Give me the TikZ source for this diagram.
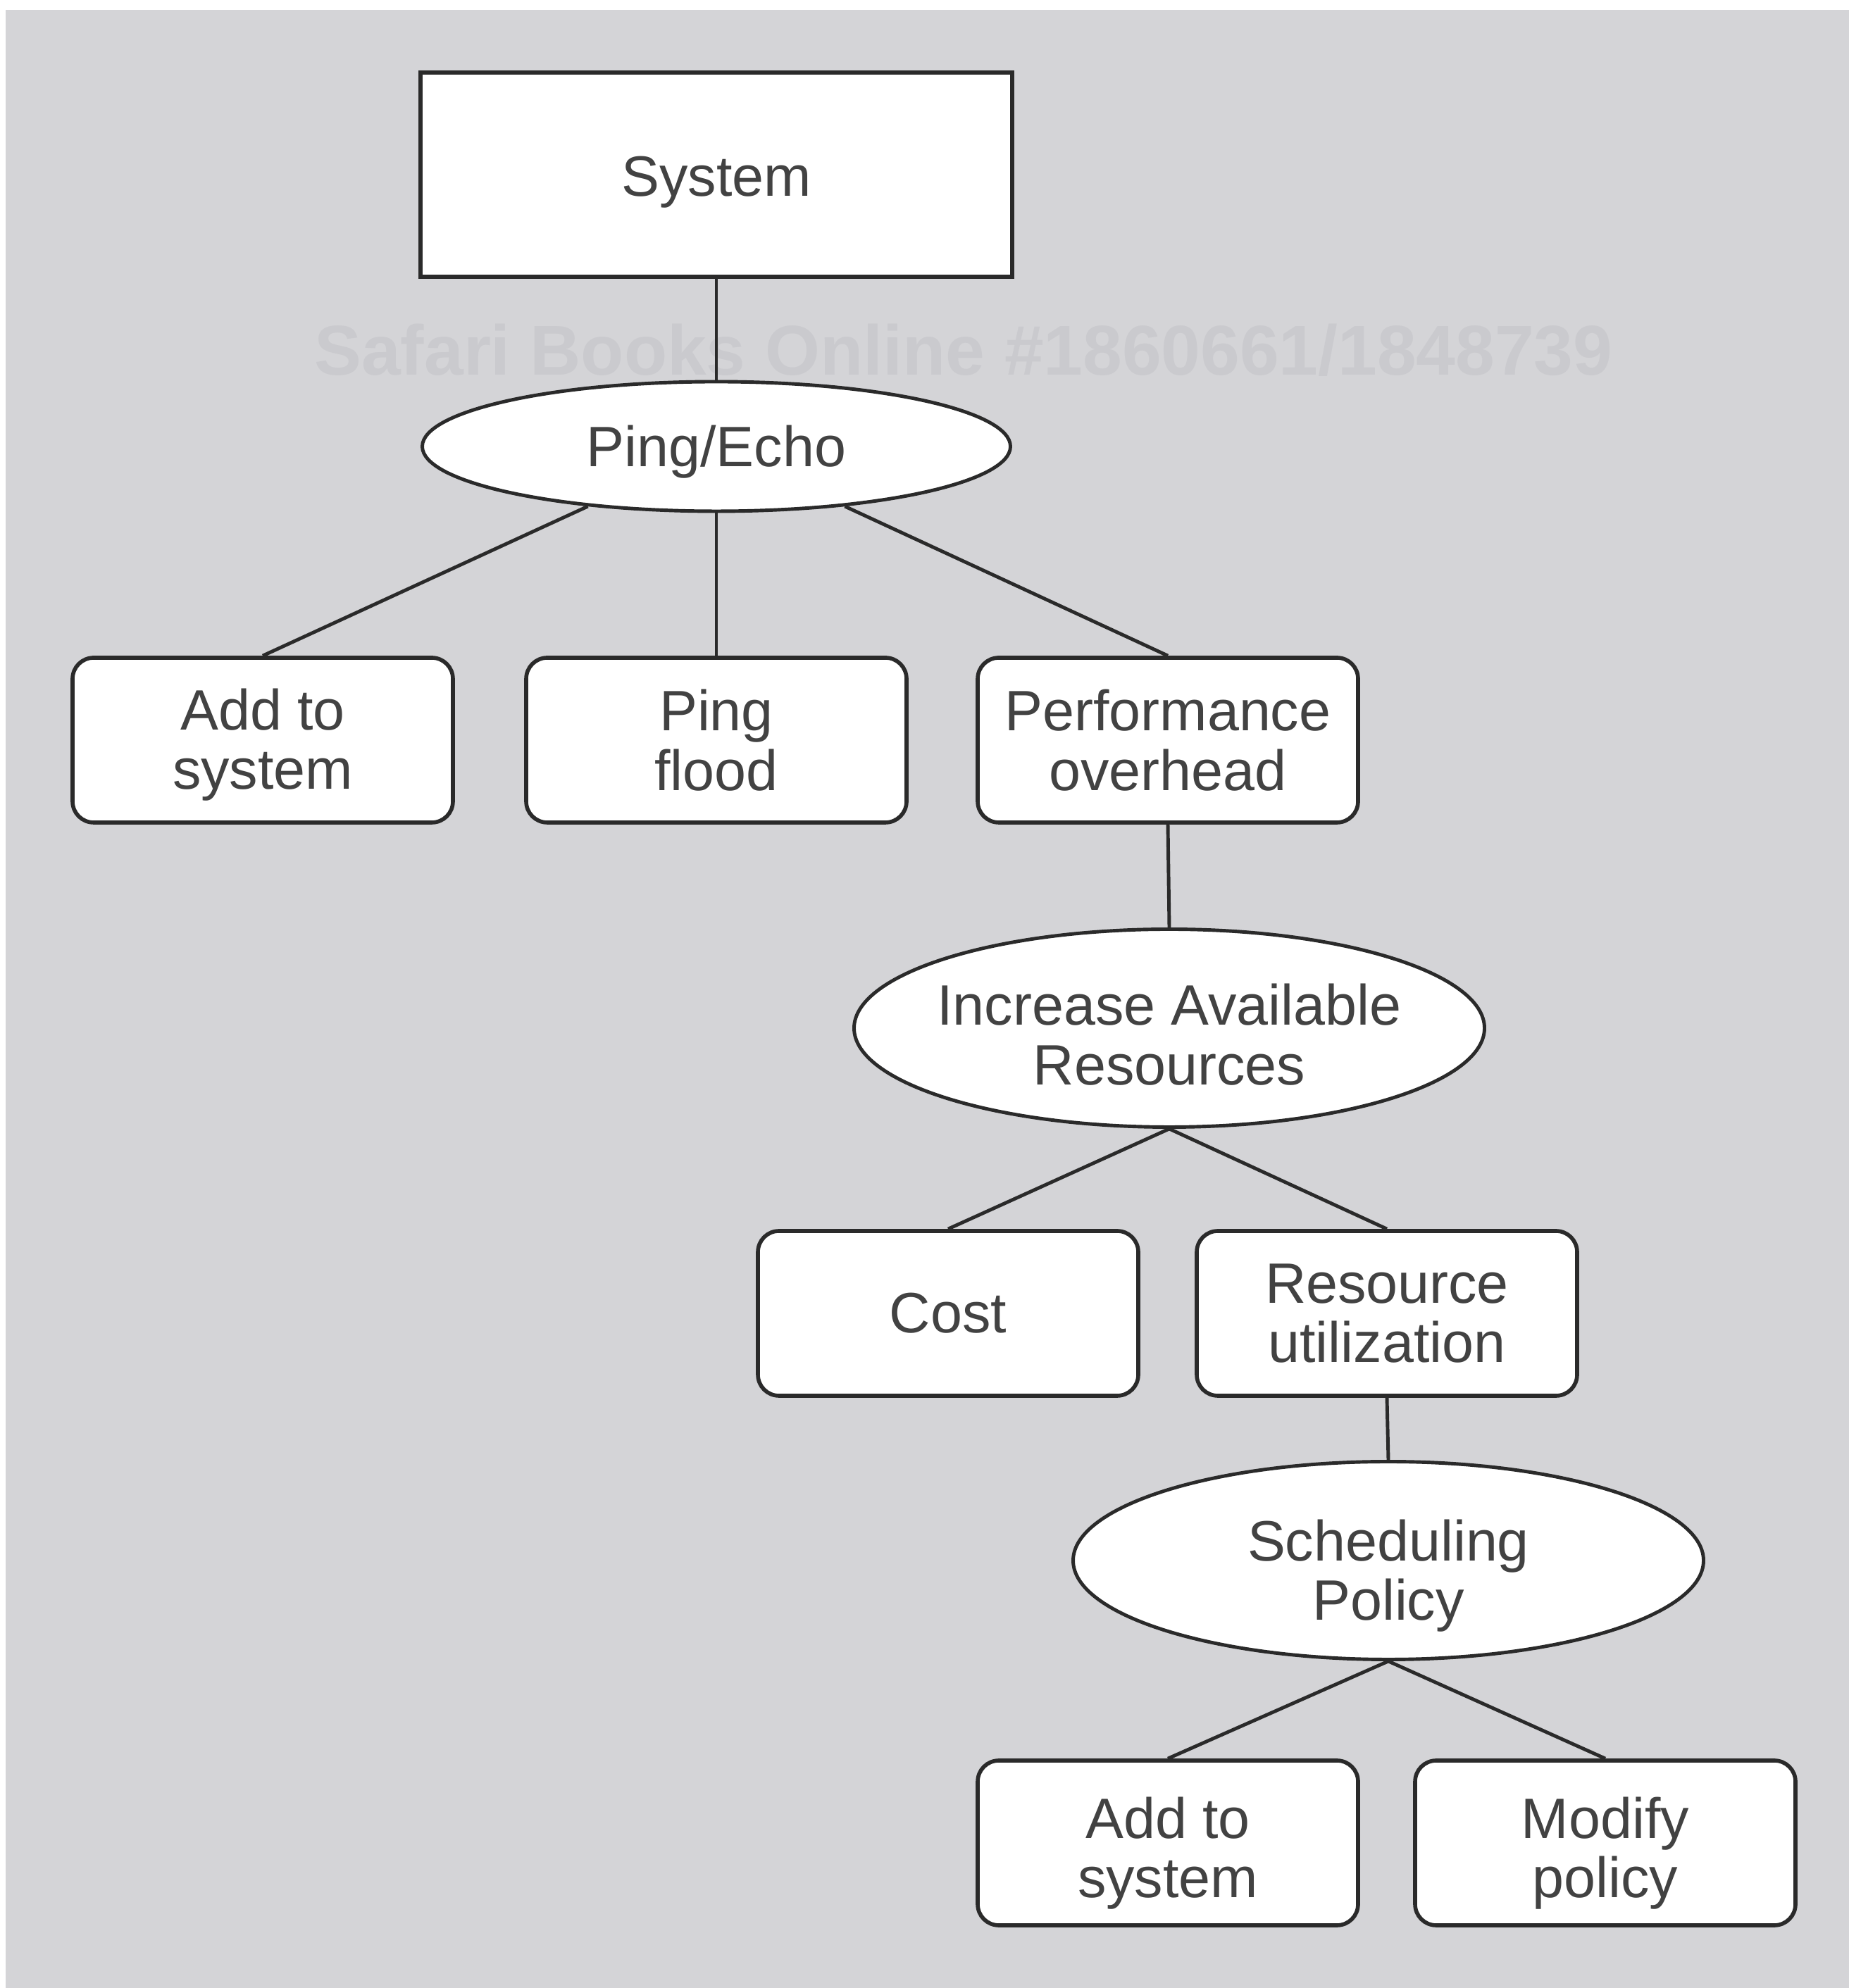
\documentclass[tikz,border=0pt]{standalone}
\usepackage{fontspec}
\setmainfont{Liberation Sans}
\usetikzlibrary{shapes.geometric}
\definecolor{bggray}{RGB}{212,212,215}
\definecolor{inkgray}{RGB}{42,42,42}
\definecolor{textgray}{RGB}{66,66,66}
\definecolor{markgray}{RGB}{202,202,206}

\begin{document}
\begin{tikzpicture}[
    font=\fontsize{23}{24}\selectfont,
    top/.style={rectangle, draw=inkgray, line width=1.6pt, fill=white, text=textgray, minimum width=8.4cm, minimum height=2.9cm},
    tactic/.style={ellipse, draw=inkgray, line width=1.4pt, fill=white, text=textgray, align=center, inner xsep=-1.5cm, inner ysep=-0.2cm, minimum width=8.95cm, minimum height=2.81cm},
    leaf/.style={rectangle, rounded corners=0.3cm, draw=inkgray, line width=1.6pt, fill=white, text=textgray, align=center, minimum width=5.4cm, minimum height=2.34cm},
    link/.style={draw=inkgray, line width=1.4pt}
]

% Page and grey backdrop
\useasboundingbox (0,0) rectangle (26.25,28.23);
\fill[white] (0,0) rectangle (26.25,28.23);
\fill[bggray] (0.08,0) rectangle (26.25,28.09);

% Watermark
\node[font=\fontsize{28.5}{30}\selectfont\bfseries, text=markgray] (wm) at (13.68,23.26) {Safari Books Online \#1860661/1848739};

% Top of the tree
\node[top, text height=0.78cm] (sys) at (10.17,25.75) {System};
\node[tactic, minimum width=8.35cm, minimum height=1.84cm, text height=0.74cm] (pe) at (10.17,21.89) {Ping/Echo};

% First row of boxes
\node[leaf, text height=1.56cm] (add1) at (3.73,17.72) {Add to\\system};
\node[leaf] (flood) at (10.17,17.72) {Ping\\flood};
\node[leaf] (perf) at (16.58,17.72) {Performance\\overhead};

% Second level
\node[tactic, text height=1.61cm] (iar) at (16.60,13.63) {Increase Available\\Resources};
\node[leaf] (cost) at (13.46,9.58) {Cost};
\node[leaf] (res) at (19.69,9.58) {Resource\\utilization};

% Third level
\node[tactic, text height=1.86cm] (sp) at (19.71,6.07) {Scheduling\\Policy};
\node[leaf, text height=1.72cm] (add2) at (16.58,2.06) {Add to\\system};
\node[leaf, text height=1.72cm] (mod) at (22.79,2.06) {Modify\\policy};

% Links
\draw[link] (sys.south) -- (pe.north);
\draw[link] (pe.205) -- (add1.north);
\draw[link] (pe.south) -- (flood.north);
\draw[link] (pe.335) -- (perf.north);

\draw[link] (perf.south) -- (iar.north);
\draw[link] (iar.south) -- (cost.north);
\draw[link] (iar.south) -- (res.north);

\draw[link] (res.south) -- (sp.north);
\draw[link] (sp.south) -- (add2.north);
\draw[link] (sp.south) -- (mod.north);

\end{tikzpicture}
\end{document}
